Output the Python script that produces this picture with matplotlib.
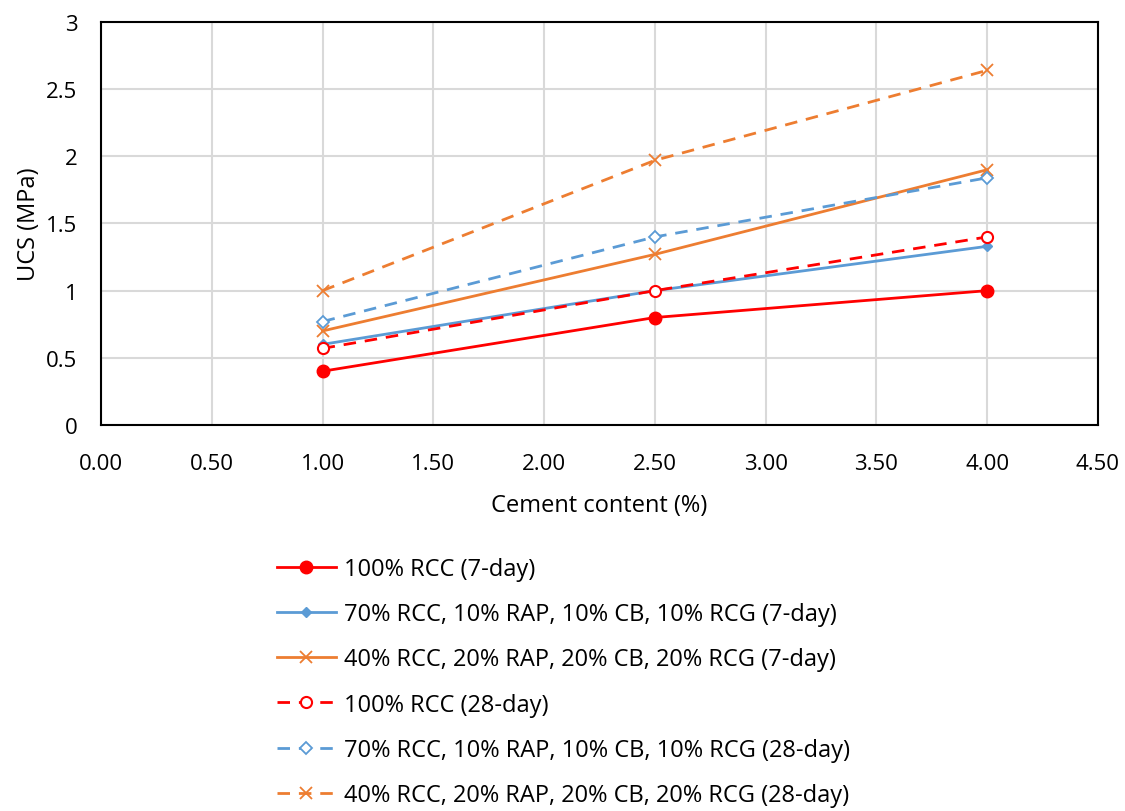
import matplotlib
matplotlib.use("Agg")
import matplotlib.pyplot as plt

plt.rcParams['font.family'] = ['Open Sans', 'DejaVu Sans']

# --- Dados ---
cement = [1.0, 2.5, 4.0]

rcc100_7   = [0.40, 0.80, 1.00]
rcc70_7    = [0.60, 1.00, 1.33]
rcc40_7    = [0.70, 1.27, 1.90]
rcc100_28  = [0.57, 1.00, 1.40]
rcc70_28   = [0.77, 1.40, 1.84]
rcc40_28   = [1.00, 1.97, 2.64]

labels = [
    "100% RCC (7-day)",
    "70% RCC, 10% RAP, 10% CB, 10% RCG (7-day)",
    "40% RCC, 20% RAP, 20% CB, 20% RCG (7-day)",
    "100% RCC (28-day)",
    "70% RCC, 10% RAP, 10% CB, 10% RCG (28-day)",
    "40% RCC, 20% RAP, 20% CB, 20% RCG (28-day)",
]

RED, BLUE, ORANGE = '#FF0000', '#5B9BD5', '#ED7D31'
FS = 16

fig = plt.figure(figsize=(11.25, 8.12), dpi=100)
ax = fig.add_axes([0.0898, 0.4754, 0.8862, 0.4963])

dash = (0, (4.5, 3.2))
lw = 2.0

ax.plot(cement, rcc100_7, color=RED, lw=lw, marker='o', ms=9, label=labels[0])
ax.plot(cement, rcc70_7, color=BLUE, lw=lw, marker='D', ms=5, label=labels[1])
ax.plot(cement, rcc40_7, color=ORANGE, lw=lw, marker='x', ms=9, mew=1.3, label=labels[2])
ax.plot(cement, rcc100_28, color=RED, lw=lw, ls=dash, marker='o', ms=8,
        mfc='white', mew=1.5, label=labels[3])
ax.plot(cement, rcc70_28, color=BLUE, lw=lw, ls=dash, marker='D', ms=6,
        mfc='white', mew=1.3, label=labels[4])
ax.plot(cement, rcc40_28, color=ORANGE, lw=lw, ls=dash, marker='x', ms=9,
        mew=1.3, label=labels[5])

ax.set_xlim(0, 4.5)
ax.set_ylim(0, 3)
ax.set_xticks([i * 0.5 for i in range(10)])
ax.set_xticklabels([f"{i * 0.5:.2f}" for i in range(10)])
ax.set_yticks([0, 0.5, 1, 1.5, 2, 2.5, 3])
ax.set_yticklabels(["0", "0.5", "1", "1.5", "2", "2.5", "3"])
ax.tick_params(labelsize=FS, length=0)
ax.tick_params(axis='x', pad=20)
ax.tick_params(axis='y', pad=17)
ax.grid(True, color='#D9D9D9', lw=1.5)
ax.set_axisbelow(True)
for s in ax.spines.values():
    s.set_linewidth(1.5)
    s.set_color('black')

ax.set_xlabel('Cement content (%)', fontsize=17, labelpad=14)
ax.set_ylabel('UCS (MPa)', fontsize=17, labelpad=4)

fig.legend(loc='upper left', bbox_to_anchor=(0.246, 0.313), frameon=False,
           fontsize=17, handlelength=2.5, labelspacing=0.9, handletextpad=0.35,
           borderaxespad=0, borderpad=0)

plt.savefig("out.png", dpi=100)
